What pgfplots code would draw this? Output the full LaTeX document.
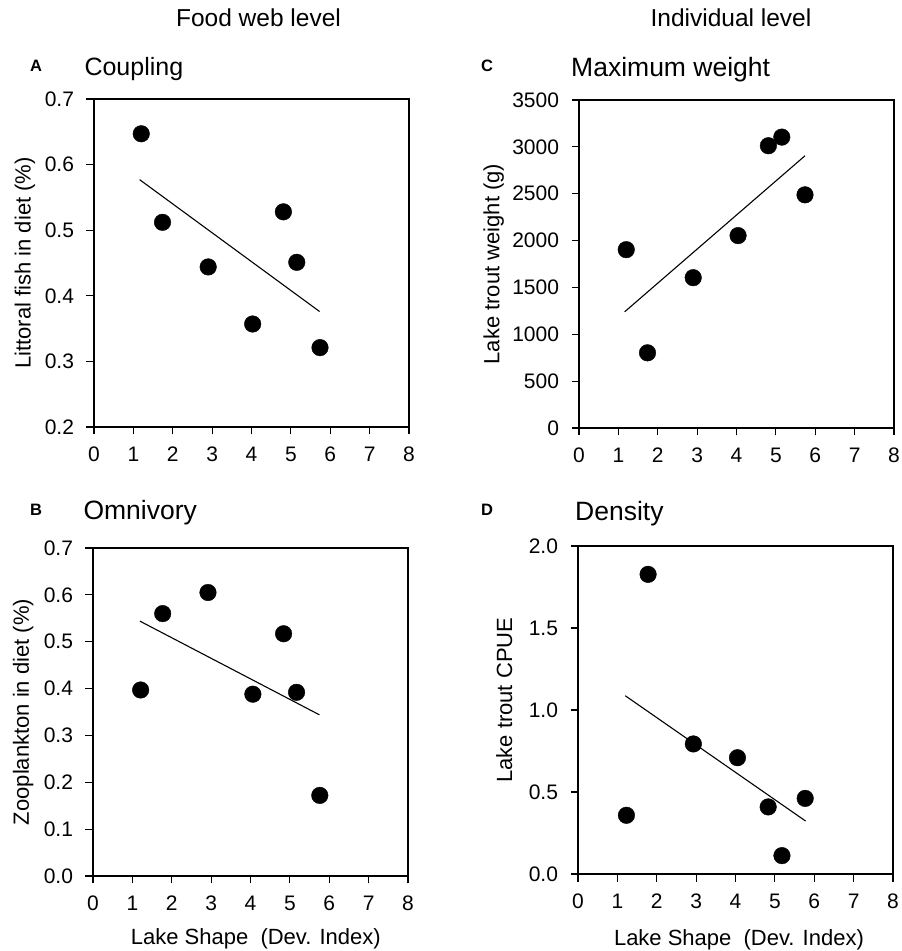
\documentclass[border=0pt]{standalone}
\usepackage{fontspec}
\setmainfont{Liberation Sans}
\usepackage{pgfplots}
\pgfplotsset{compat=1.18}

\pgfplotsset{
  panel/.style={
    scale only axis,
    width=315pt, height=328pt,
    anchor=south west,
    axis line style={line width=1.2pt},
    xmin=0, xmax=8,
    xtick={0,1,...,8},
    tick align=outside,
    xtick pos=bottom, ytick pos=left,
    major tick length=7.5pt,
    tick style={line width=1.2pt, black},
    font=\fontsize{21}{25}\selectfont,
    /pgf/number format/assume math mode=true,
    xticklabel style={yshift=-9pt},
    yticklabel style={xshift=-9pt},
    label style={font=\fontsize{22}{26}\selectfont},
    clip=false,
  },
  dots/.style={only marks, mark=*, mark size=8.3pt, black},
  fit/.style={no marks, black, line width=1.1pt},
}

\begin{document}
\begin{tikzpicture}
\useasboundingbox (0pt,0pt) rectangle (902pt,951pt);

\node[anchor=base, font=\fontsize{24.5}{28}\selectfont] at (258.5pt,924pt) {Food web level};
\node[anchor=base, font=\fontsize{24.5}{28}\selectfont] at (731pt,924pt) {Individual level};

% A: coupling
\begin{axis}[panel, at={(94pt,524pt)},
    ymin=0.2, ymax=0.7, ytick={0.2,0.3,...,0.7},
    yticklabel style={/pgf/number format/fixed, /pgf/number format/precision=1},
    ylabel={Littoral fish in diet (\%)},
    ylabel style={at={(axis description cs:-0.219,0.5)}, anchor=center}]
\addplot[dots] coordinates {(1.20,0.647) (1.74,0.512) (2.90,0.444) (4.03,0.357) (4.81,0.528) (5.15,0.451) (5.74,0.321)};
\addplot[fit] coordinates {(1.16,0.577) (5.73,0.376)};
\end{axis}
\node[anchor=base west, font=\fontsize{16.5}{19}\selectfont\bfseries] at (26.7pt,879pt) {A};
\node[anchor=base west, font=\fontsize{25}{30}\selectfont] at (81pt,875pt) {Coupling};

% C: maximum weight
\begin{axis}[panel, at={(579pt,523pt)},
    ymin=0, ymax=3500, ytick={0,500,...,3500},
    yticklabel style={/pgf/number format/1000 sep={}},
    ylabel={Lake trout weight (g)},
    ylabel style={at={(axis description cs:-0.271,0.5)}, anchor=center}]
\addplot[dots] coordinates {(1.20,1903) (1.74,802) (2.90,1604) (4.04,2053) (4.81,3012) (5.15,3104) (5.74,2488)};
\addplot[fit] coordinates {(1.16,1240) (5.74,2905)};
\end{axis}
\node[anchor=base west, font=\fontsize{16.5}{19}\selectfont\bfseries] at (477.7pt,879pt) {C};
\node[anchor=base west, font=\fontsize{26.5}{30}\selectfont] at (567.7pt,874.3pt) {Maximum weight};

% B: omnivory
\begin{axis}[panel, at={(93pt,75pt)},
    ymin=0, ymax=0.7, ytick={0,0.1,...,0.7},
    yticklabel style={/pgf/number format/fixed, /pgf/number format/fixed zerofill, /pgf/number format/precision=1},
    ylabel={Zooplankton in diet (\%)},
    ylabel style={at={(axis description cs:-0.222,0.5)}, anchor=center},
    xlabel={Lake Shape\ \ (Dev. Index)},
    xlabel style={at={(axis description cs:0.517,-0.19)}, anchor=center}]
\addplot[dots] coordinates {(1.21,0.397) (1.77,0.560) (2.92,0.605) (4.06,0.388) (4.84,0.517) (5.17,0.392) (5.76,0.172)};
\addplot[fit] coordinates {(1.19,0.544) (5.75,0.344)};
\end{axis}
\node[anchor=base west, font=\fontsize{16.5}{19}\selectfont\bfseries] at (26.7pt,435pt) {B};
\node[anchor=base west, font=\fontsize{26.5}{30}\selectfont] at (80pt,431pt) {Omnivory};

% D: density
\begin{axis}[panel, at={(578pt,77pt)},
    ymin=0, ymax=2, ytick={0,0.5,...,2},
    yticklabel style={/pgf/number format/fixed, /pgf/number format/fixed zerofill, /pgf/number format/precision=1},
    ylabel={Lake trout CPUE},
    ylabel style={at={(axis description cs:-0.234,0.53)}, anchor=center},
    xlabel={Lake Shape\ \ (Dev. Index)},
    xlabel style={at={(axis description cs:0.511,-0.2)}, anchor=center}]
\addplot[dots] coordinates {(1.23,0.358) (1.78,1.827) (2.93,0.793) (4.05,0.709) (4.83,0.409) (5.18,0.112) (5.77,0.461)};
\addplot[fit] coordinates {(1.20,1.087) (5.78,0.323)};
\end{axis}
\node[anchor=base west, font=\fontsize{16.5}{19}\selectfont\bfseries] at (477.7pt,435pt) {D};
\node[anchor=base west, font=\fontsize{26.5}{30}\selectfont] at (571.7pt,430.3pt) {Density};
\end{tikzpicture}
\end{document}
